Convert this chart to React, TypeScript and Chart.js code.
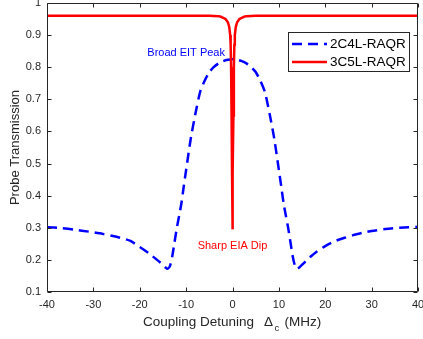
import React, { useEffect, useRef } from "react";
import { Chart, registerables } from "chart.js";
Chart.register(...registerables);

// ---- Data ----
const detuningBlue = [
  -40, -37, -34, -31, -28, -25, -22, -20, -18, -16, -15, -14.5, -14, -13.5, -13, -12.5, -12, -11.5, -11, -10.5, -10,
  -9, -8, -7, -6, -5, -4, -3, -2, -1, 0,
  1, 2, 3, 4, 5, 6, 7, 8, 9, 10, 10.5, 11, 11.5, 12, 12.5, 13, 13.5, 14, 15, 16, 17, 18, 20, 22, 24, 26, 28, 30, 33, 36, 40,
];
const transBlue = [
  0.302, 0.299, 0.294, 0.288, 0.281, 0.272, 0.259, 0.24, 0.22, 0.197, 0.185, 0.177, 0.172, 0.18, 0.21, 0.255, 0.3, 0.338, 0.378, 0.43, 0.48,
  0.578, 0.655, 0.722, 0.758, 0.785, 0.801, 0.812, 0.819, 0.823, 0.825,
  0.823, 0.819, 0.812, 0.801, 0.785, 0.758, 0.722, 0.655, 0.578, 0.48, 0.43, 0.378, 0.338, 0.3, 0.255, 0.21, 0.18, 0.172, 0.185, 0.198, 0.212, 0.224, 0.243, 0.258, 0.268, 0.277, 0.284, 0.29, 0.296, 0.3, 0.303,
];
const detuningRed = [
  -40, -20, -10, -5, -3, -2.5, -2, -1.5, -1, -0.7, -0.5, -0.4, -0.3, -0.2, -0.1, -0.05, 0,
  0.05, 0.1, 0.2, 0.3, 0.4, 0.5, 0.7, 1, 1.5, 2, 2.5, 3, 5, 10, 20, 40,
];
const transRed = [
  0.96, 0.96, 0.96, 0.96, 0.959, 0.957, 0.954, 0.95, 0.94, 0.925, 0.9, 0.87, 0.8, 0.65, 0.47, 0.38, 0.295,
  0.38, 0.47, 0.65, 0.8, 0.87, 0.9, 0.925, 0.94, 0.95, 0.954, 0.957, 0.959, 0.96, 0.96, 0.96, 0.96,
];
const seriesLabels = ["2C4L-RAQR", "3C5L-RAQR"];
const xTickValues = [-40, -30, -20, -10, 0, 10, 20, 30, 40];
const yTickValues = [0.1, 0.2, 0.3, 0.4, 0.5, 0.6, 0.7, 0.8, 0.9, 1];
const peakNote = "Broad EIT Peak";
const dipNote = "Sharp EIA Dip";

const FONT = '"Liberation Sans", Arial, Helvetica, sans-serif';
const AXIS = "#262626";
const BLUE = "#0000ff";
const RED = "#ff0000";

const decor = {
  id: "decor",
  afterDatasetsDraw(chart: any) {
    const { ctx, scales } = chart;
    const x = scales.x, y = scales.y;
    ctx.save();
    ctx.font = `11px ${FONT}`;
    ctx.textAlign = "center";
    ctx.textBaseline = "middle";
    ctx.fillStyle = BLUE;
    ctx.fillText(peakNote, x.getPixelForValue(-10), y.getPixelForValue(0.845));
    ctx.fillStyle = RED;
    ctx.fillText(dipNote, x.getPixelForValue(0), y.getPixelForValue(0.243));
    ctx.restore();
  },
  afterDraw(chart: any) {
    const { ctx, chartArea, scales } = chart;
    const { left, right, top, bottom } = chartArea;
    const x = scales.x, y = scales.y;
    ctx.save();
    ctx.strokeStyle = AXIS;
    ctx.lineWidth = 1;
    const L = Math.round(left) + 0.5, R = Math.round(right) - 0.5;
    const T = Math.round(top) + 0.5, B = Math.round(bottom) - 0.5;
    ctx.beginPath();
    ctx.rect(L, T, R - L, B - T);
    ctx.stroke();
    const tl = 4;
    ctx.beginPath();
    xTickValues.forEach((v) => {
      const px = Math.round(x.getPixelForValue(v)) + 0.5;
      ctx.moveTo(px, B); ctx.lineTo(px, B - tl);
      ctx.moveTo(px, T); ctx.lineTo(px, T + tl);
    });
    yTickValues.forEach((v) => {
      const py = Math.round(y.getPixelForValue(v)) + 0.5;
      ctx.moveTo(L, py); ctx.lineTo(L + tl, py);
      ctx.moveTo(R, py); ctx.lineTo(R - tl, py);
    });
    ctx.stroke();

    // x axis title
    ctx.fillStyle = AXIS;
    ctx.textBaseline = "middle";
    ctx.textAlign = "left";
    const ty = 322;
    const cx = (left + right) / 2;
    ctx.font = `13.5px ${FONT}`;
    ctx.fillText("Coupling Detuning", cx - 89.5, ty);
    ctx.fillText("\u0394", cx + 31.5, ty);
    ctx.font = `9.5px ${FONT}`;
    ctx.fillText("c", cx + 42, ty + 6);
    ctx.font = `13.5px ${FONT}`;
    ctx.fillText("(MHz)", cx + 52, ty);

    // y axis title
    ctx.save();
    ctx.translate(15, (top + bottom) / 2);
    ctx.rotate(-Math.PI / 2);
    ctx.textAlign = "center";
    ctx.font = `13px ${FONT}`;
    ctx.fillText("Probe Transmission", 0, 0);
    ctx.restore();

    // legend
    const bx = 288.5, by = 32.5, bw = 121, bh = 39;
    ctx.fillStyle = "#ffffff";
    ctx.fillRect(bx, by, bw, bh);
    ctx.strokeStyle = AXIS;
    ctx.lineWidth = 1;
    ctx.strokeRect(bx, by, bw, bh);
    const ds = chart.data.datasets;
    const rows = [44, 62];
    ds.forEach((d: any, i: number) => {
      ctx.beginPath();
      ctx.strokeStyle = d.borderColor;
      ctx.lineWidth = d.borderWidth;
      ctx.setLineDash(d.borderDash || []);
      ctx.moveTo(292, rows[i]);
      ctx.lineTo(327, rows[i]);
      ctx.stroke();
      ctx.setLineDash([]);
      ctx.fillStyle = "#000000";
      ctx.font = `13.5px ${FONT}`;
      ctx.textAlign = "left";
      ctx.fillText(d.label, 330, rows[i]);
    });
    ctx.restore();
  },
};

export default function App() {
  const ref = useRef<HTMLCanvasElement | null>(null);
  useEffect(() => {
    if (!ref.current) return;
    const chart = new Chart(ref.current, {
      type: "line",
      data: {
        datasets: [
          {
            label: seriesLabels[0],
            data: detuningBlue.map((v, i) => ({ x: v, y: transBlue[i] })),
            borderColor: BLUE,
            borderWidth: 2.5,
            borderDash: [10, 6],
            pointRadius: 0,
            tension: 0.2,
            fill: false,
            order: 1,
          },
          {
            label: seriesLabels[1],
            data: detuningRed.map((v, i) => ({ x: v, y: transRed[i] })),
            borderColor: RED,
            borderWidth: 2.5,
            pointRadius: 0,
            tension: 0,
            fill: false,
            order: 0,
          },
        ],
      },
      options: {
        animation: false,
        responsive: false,
        devicePixelRatio: 1,
        layout: { padding: { left: 0, top: 3, right: 5, bottom: 0 } },
        plugins: { legend: { display: false }, tooltip: { enabled: false }, title: { display: false } },
        scales: {
          x: {
            type: "linear",
            min: -40,
            max: 40,
            afterBuildTicks: (s: any) => { s.ticks = xTickValues.map((v) => ({ value: v })); },
            ticks: { color: AXIS, font: { size: 11, family: FONT }, padding: 6, maxRotation: 0, autoSkip: false },
            grid: { display: false, drawTicks: false },
            border: { display: false },
            afterFit: (s: any) => { s.height = 47; s.paddingLeft = 0; s.paddingRight = 0; },
          },
          y: {
            type: "linear",
            min: 0.1,
            max: 1,
            afterBuildTicks: (s: any) => { s.ticks = yTickValues.map((v) => ({ value: v })); },
            ticks: {
              color: AXIS,
              font: { size: 11, family: FONT },
              padding: 6,
              autoSkip: false,
              callback: (v: any) => (Math.abs(v - 1) < 1e-9 ? "1" : Number(v).toFixed(1)),
            },
            grid: { display: false, drawTicks: false },
            border: { display: false },
            afterFit: (s: any) => { s.width = 47; s.paddingTop = 0; s.paddingBottom = 0; },
          },
        },
      },
      plugins: [decor],
    } as any);
    return () => chart.destroy();
  }, []);
  return (
    <div style={{ position: "fixed", left: 0, top: 0, width: 423, height: 339, background: "#fff" }}>
      <canvas ref={ref} width={423} height={339} style={{ display: "block" }} />
    </div>
  );
}
